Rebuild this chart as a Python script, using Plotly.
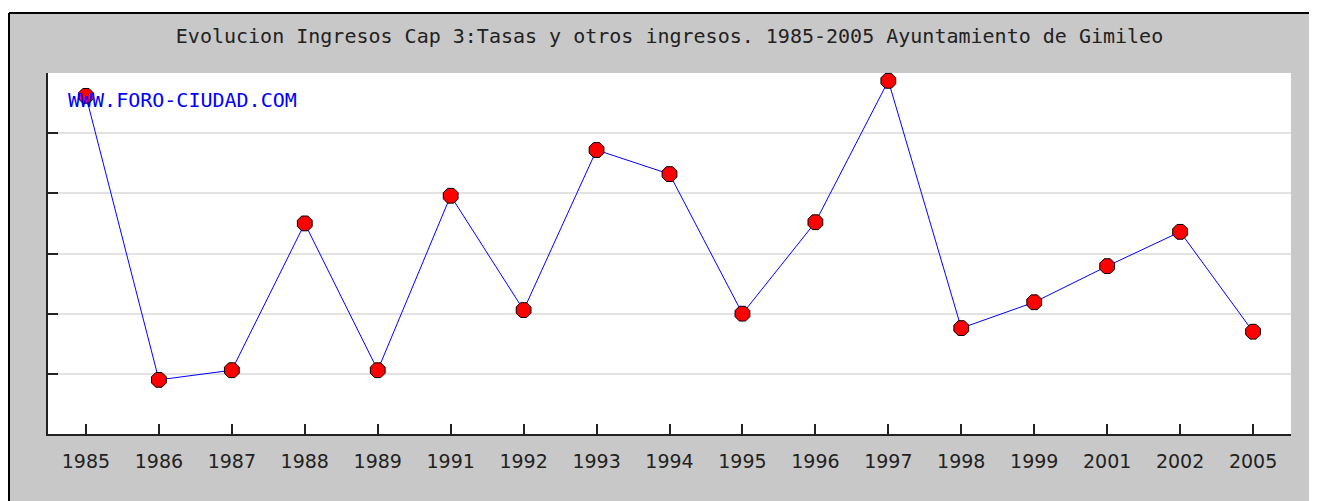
import plotly.graph_objects as go

years = ["1985", "1986", "1987", "1988", "1989", "1991", "1992", "1993", "1994",
         "1995", "1996", "1997", "1998", "1999", "2001", "2002", "2005"]
values = [5.62, 0.90, 1.06, 3.50, 1.06, 3.96, 2.06, 4.72, 4.32,
          2.00, 3.52, 5.87, 1.76, 2.19, 2.79, 3.36, 1.70]

title_text = "Evolucion Ingresos Cap 3:Tasas y otros ingresos. 1985-2005 Ayuntamiento de Gimileo"
watermark = "WWW.FORO-CIUDAD.COM"

# figure sits at page offset (8, 8) because of the body margin
W, H = 1317, 501
L, R, T, B = 40, 1283, 65, 426
pw, ph = R - L, B - T

def px(x):
    return (x - L) / pw

def py(y):
    return (B - y) / ph

fig = go.Figure()
fig.add_trace(go.Scatter(
    x=years, y=values, mode="lines+markers",
    line=dict(color="#0000ff", width=1),
    marker=dict(symbol="octagon", size=16, color="#ff0000",
                line=dict(color="#000000", width=1)),
    cliponaxis=False, hoverinfo="x+y", showlegend=False,
))

fig.update_layout(
    width=W, height=H,
    margin=dict(l=L, r=W - R, t=T, b=H - B, pad=0),
    paper_bgcolor="#c8c8c8",
    plot_bgcolor="#ffffff",
    title=dict(text=title_text, x=(L + R) / 2 / W, xanchor="center", xref="container",
               y=1 - 28 / H, yanchor="middle",
               font=dict(family="DejaVu Sans Mono", size=20, color="#222222")),
    xaxis=dict(type="category", range=[-0.52, 16.52],
               showline=True, linecolor="#222222", linewidth=2,
               ticks="inside", ticklen=10, tickwidth=2, tickcolor="#222222",
               ticklabelstandoff=9,
               showgrid=False, zeroline=False,
               tickfont=dict(family="DejaVu Sans", size=19, color="#222222")),
    yaxis=dict(range=[0, 6], dtick=1, tick0=0,
               showline=True, linecolor="#222222", linewidth=2,
               ticks="inside", ticklen=10, tickwidth=2, tickcolor="#222222",
               showticklabels=False,
               showgrid=True, gridcolor="#e2e2e2", gridwidth=2, zeroline=False),
    annotations=[dict(text=watermark, xref="paper", yref="paper",
                      x=px(58), y=py(92), xanchor="left", yanchor="middle",
                      showarrow=False,
                      font=dict(family="DejaVu Sans Mono", size=20, color="#0000ff"))],
    shapes=[
        dict(type="rect", xref="paper", yref="paper", x0=-1, x1=2,
             y0=py(5), y1=2, fillcolor="#ffffff", line=dict(width=0), layer="below"),
        dict(type="line", xref="paper", yref="paper", x0=px(1), x1=2,
             y0=py(5), y1=py(5), line=dict(color="#000000", width=2)),
        dict(type="line", xref="paper", yref="paper", x0=px(1), x1=px(1),
             y0=py(5), y1=-1, line=dict(color="#000000", width=2)),
    ],
)

fig.write_html("out.html")
